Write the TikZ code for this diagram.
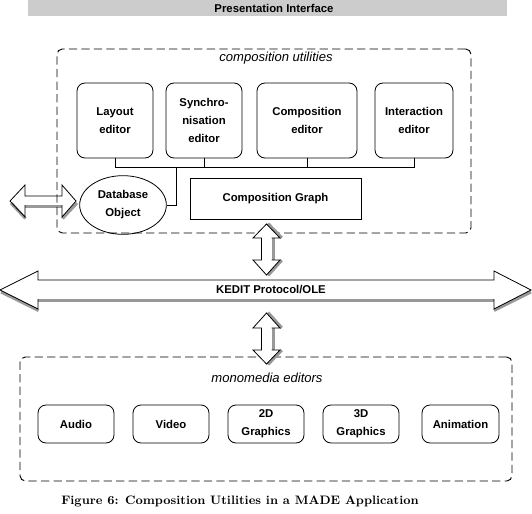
\documentclass[tikz,border=0pt]{standalone}
\usepackage{fontspec}
\newfontfamily\helv{Liberation Sans}
\usetikzlibrary{shapes.geometric}
\newcommand\boxfont{\helv\bfseries\fontsize{8.5}{13.6}\selectfont}
\newcommand\itfont{\helv\itshape\fontsize{9.8}{12}\selectfont}
\begin{document}
\begin{tikzpicture}[x=0.75pt,y=-0.75pt,
  line width=0.6pt,
  box/.style={draw,rounded corners=6pt,align=center,font=\boxfont,inner sep=0pt},
  plainbox/.style={draw,align=center,font=\boxfont,inner sep=0pt},
  dashbox/.style={draw,line width=0.7pt,dash pattern=on 6.2pt off 3.2pt,rounded corners=4pt,inner sep=0pt},
  ital/.style={font=\itfont,inner sep=0pt},
  lbl/.style={font=\boxfont,inner sep=0pt},
  shade/.style={line width=2.25pt,draw=black!40},
  wire/.style={draw,line width=0.6pt}]
\useasboundingbox (0,0) rectangle (532,514);

% banner
\fill[black!20] (28,0) rectangle (507,16);
\node[lbl] (pi) at (274,8) {Presentation Interface};

% left double arrow (behind dashed box)
\fill[white] (10,201) -- (25,185) -- (25,196) -- (62,196) -- (62,185) -- (76,201) -- (62,217) -- (62,205) -- (25,205) -- (25,217) -- cycle;
\draw[shade] (11,203) -- (25.5,218.5);
\draw[shade] (25,206.2) -- (62,206.2);
\draw[shade] (62.5,218.5) -- (77,203);
\draw (10,201) -- (25,185) -- (25,196) -- (62,196) -- (62,185) -- (76,201) -- (62,217) -- (62,205);
\draw (25,205) -- (25,217) -- (10,201);

% composition utilities group
\node[dashbox,minimum width=310.5pt,minimum height=138pt] (cu) at (264,141) {};
\node[ital] (cut) at (276,58) {composition utilities};

\node[box,minimum width=57pt,minimum height=56.25pt] (lay) at (115,120.5) {Layout\\editor};
\node[box,minimum width=57pt,minimum height=56.25pt] (syn) at (204,120.5) {Synchro-\\nisation\\editor};
\node[box,minimum width=75pt,minimum height=56.25pt] (cmp) at (307,120.5) {Composition\\editor};
\node[box,minimum width=58.5pt,minimum height=56.25pt] (int) at (414,120.5) {Interaction\\editor};

\node[ellipse,draw,minimum width=65pt,minimum height=44pt,inner sep=0pt,align=center,font=\boxfont] (db) at (123,205) {Database\\Object};
\node[plainbox,minimum width=128.25pt,minimum height=30.75pt] (cg) at (275.5,198.5) {Composition Graph};

\coordinate (busy) at (0,167);
\coordinate (tap) at (176,167);
\draw[wire] (lay.south) -- (lay.south |- busy) -- (int.south |- busy) -- (int.south);
\draw[wire] (syn.south) -- (syn.south |- busy);
\draw[wire] (cmp.south) -- (cmp.south |- busy);
\draw[wire] (tap) |- (db.east);

% monomedia editors group
\node[dashbox,minimum width=369pt,minimum height=93pt] (mm) at (266,419) {};
\node[ital] (mmt) at (267,378) {monomedia editors};
\node[box,minimum width=57pt,minimum height=28.5pt] (aud) at (76,424) {Audio};
\node[box,minimum width=57pt,minimum height=28.5pt] (vid) at (171,424) {Video};
\node[box,minimum width=57pt,minimum height=28.5pt] (g2d) at (266,424) {2D\\Graphics};
\node[box,minimum width=57pt,minimum height=28.5pt] (g3d) at (361,424) {3D\\Graphics};
\node[box,minimum width=57.75pt,minimum height=28.5pt] (ani) at (460.5,424) {Animation};

% KEDIT protocol double arrow
\fill[white] (0,290) -- (38,271) -- (38,280) -- (494,280) -- (494,271) -- (531,290) -- (494,309) -- (494,299) -- (38,299) -- (38,309) -- cycle;
\draw[shade] (1,292) -- (38.5,310.5);
\draw[shade] (38,300.3) -- (494,300.3);
\draw[shade] (494,310.5) -- (531,292);
\draw (0,290) -- (38,271) -- (38,280) -- (494,280) -- (494,271) -- (531,290) -- (494,309) -- (494,299);
\draw (38,299) -- (38,309) -- (0,290);
\node[lbl] (ked) at (271,290) {KEDIT Protocol/OLE};

% upper vertical double arrow
\fill[white] (266.5,224) -- (280,238) -- (271.5,238) -- (271.5,260) -- (280,260) -- (266.5,275) -- (253,260) -- (261.5,260) -- (261.5,238) -- (253,238) -- cycle;
\draw[shade] (268,223.5) -- (281.8,237.8);
\draw[shade] (273,238) -- (273,260);
\draw[shade] (281.8,260.2) -- (268,275.5);
\draw (271.5,238) -- (280,238) -- (266.5,224) -- (253,238) -- (261.5,238) -- (261.5,260) -- (253,260) -- (266.5,275) -- (280,260) -- (271.5,260);

% lower vertical double arrow
\fill[white] (266.5,313) -- (280,328) -- (271.5,328) -- (271.5,350) -- (280,350) -- (266.5,364) -- (253,350) -- (261.5,350) -- (261.5,328) -- (253,328) -- cycle;
\draw[shade] (268,312.5) -- (281.8,327.8);
\draw[shade] (273,328) -- (273,350);
\draw[shade] (281.8,350.2) -- (268,364.5);
\draw (271.5,328) -- (280,328) -- (266.5,313) -- (253,328) -- (261.5,328) -- (261.5,350) -- (253,350) -- (266.5,364) -- (280,350) -- (271.5,350);

% caption
\node[inner sep=0pt,font=\bfseries\fontsize{9.2}{11}\selectfont] (cap) at (240,501) {Figure 6: Composition Utilities in a MADE Application};
\end{tikzpicture}
\end{document}
